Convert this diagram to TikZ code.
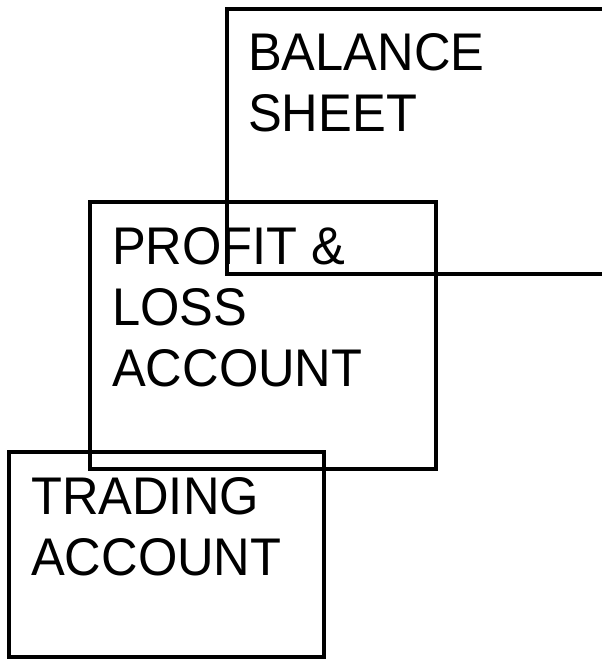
\documentclass[tikz,border=0pt]{standalone}
\usepackage{fontspec}
\setmainfont[FakeStretch=0.955]{Liberation Sans}
\begin{document}
\begin{tikzpicture}[x=1pt,y=-1pt,
  acct/.style={draw=black,line width=3.2pt,fill=none},
  lbl/.style={anchor=base west,inner sep=0pt,font=\fontsize{53}{61}\selectfont}]
\useasboundingbox (0,0) rectangle (602,659);
% boxes
\draw[acct] (620,9) -- (227,9) -- (227,274) -- (620,274);
\draw[acct] (90,202) rectangle (436,469);
\draw[acct] (9,452) rectangle (324,657);
% labels
\node[lbl] (bs1) at (248,70) {BALANCE};
\node[lbl] (bs2) at (248,131) {SHEET};
\node[lbl] (pl1) at (112,264) {PROFIT \&};
\node[lbl] (pl2) at (112,325) {LOSS};
\node[lbl] (pl3) at (112,386) {ACCOUNT};
\node[lbl] (ta1) at (31,514) {TRADING};
\node[lbl] (ta2) at (31,575) {ACCOUNT};
\end{tikzpicture}
\end{document}
